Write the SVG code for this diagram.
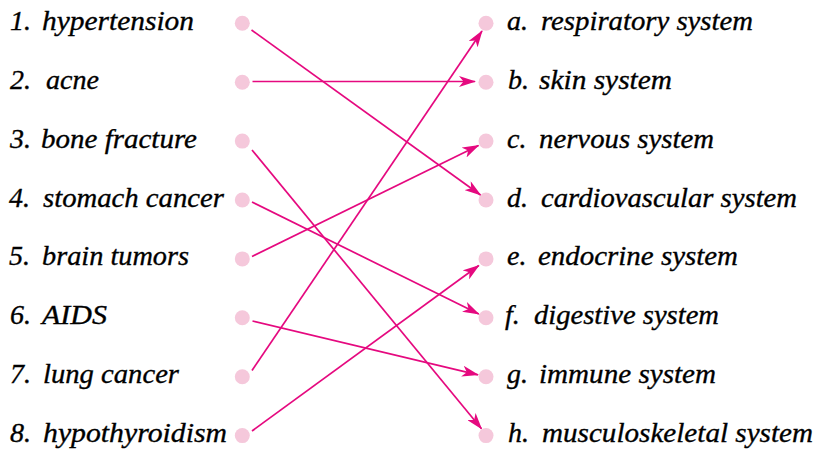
<svg xmlns="http://www.w3.org/2000/svg" width="817" height="452" viewBox="0 0 817 452">
<style>
text{font-family:"Liberation Serif","Times New Roman",serif;font-style:italic;font-size:28px;fill:#000;stroke:#000;stroke-width:0.35}
.dot{fill:#F5C8DB}
.con line{stroke:#E5097F;stroke-width:1.7;fill:none}
</style>
<defs>
<marker id="ah" markerUnits="userSpaceOnUse" viewBox="0 0 17 11" markerWidth="17" markerHeight="11" refX="16" refY="5.5" orient="auto">
<path d="M0,0 L17,5.5 L0,11 L4.5,5.5 Z" fill="#E5097F"/>
</marker>
</defs>
<rect width="817" height="452" fill="#fff"/>
<g id="l1"><text x="10" y="29.8">1.</text><text x="42" y="29.8" textLength="152" lengthAdjust="spacingAndGlyphs">hypertension</text><circle class="dot" cx="242.3" cy="23.3" r="7.5"/></g>
<g id="l2"><text x="10" y="88.7">2.</text><text x="46" y="88.7" textLength="53" lengthAdjust="spacingAndGlyphs">acne</text><circle class="dot" cx="242.3" cy="82.2" r="7.5"/></g>
<g id="l3"><text x="10" y="147.6">3.</text><text x="41" y="147.6" textLength="156" lengthAdjust="spacingAndGlyphs">bone fracture</text><circle class="dot" cx="242.3" cy="141.1" r="7.5"/></g>
<g id="l4"><text x="9" y="206.5">4.</text><text x="43" y="206.5" textLength="181" lengthAdjust="spacingAndGlyphs">stomach cancer</text><circle class="dot" cx="242.3" cy="200" r="7.5"/></g>
<g id="l5"><text x="9" y="265.4">5.</text><text x="42" y="265.4" textLength="147" lengthAdjust="spacingAndGlyphs">brain tumors</text><circle class="dot" cx="242.3" cy="258.9" r="7.5"/></g>
<g id="l6"><text x="10" y="324.3">6.</text><text x="42" y="324.3" textLength="65" lengthAdjust="spacingAndGlyphs">AIDS</text><circle class="dot" cx="242.3" cy="317.8" r="7.5"/></g>
<g id="l7"><text x="10" y="383.2">7.</text><text x="43" y="383.2" textLength="136" lengthAdjust="spacingAndGlyphs">lung cancer</text><circle class="dot" cx="242.3" cy="376.7" r="7.5"/></g>
<g id="l8"><text x="10" y="442.1">8.</text><text x="43" y="442.1" textLength="184" lengthAdjust="spacingAndGlyphs">hypothyroidism</text><circle class="dot" cx="242.3" cy="435.6" r="7.5"/></g>
<g id="ra"><circle class="dot" cx="486" cy="23.3" r="7.5"/><text x="507" y="29.8">a.</text><text x="541" y="29.8" textLength="212" lengthAdjust="spacingAndGlyphs">respiratory system</text></g>
<g id="rb"><circle class="dot" cx="486" cy="82.2" r="7.5"/><text x="508" y="88.7">b.</text><text x="539" y="88.7" textLength="133" lengthAdjust="spacingAndGlyphs">skin system</text></g>
<g id="rc"><circle class="dot" cx="486" cy="141.1" r="7.5"/><text x="507" y="147.6">c.</text><text x="539" y="147.6" textLength="175" lengthAdjust="spacingAndGlyphs">nervous system</text></g>
<g id="rd"><circle class="dot" cx="486" cy="200" r="7.5"/><text x="507" y="206.5">d.</text><text x="541" y="206.5" textLength="256" lengthAdjust="spacingAndGlyphs">cardiovascular system</text></g>
<g id="re"><circle class="dot" cx="486" cy="258.9" r="7.5"/><text x="507" y="265.4">e.</text><text x="538" y="265.4" textLength="200" lengthAdjust="spacingAndGlyphs">endocrine system</text></g>
<g id="rf"><circle class="dot" cx="486" cy="317.8" r="7.5"/><text x="505" y="324.3">f.</text><text x="534" y="324.3" textLength="185" lengthAdjust="spacingAndGlyphs">digestive system</text></g>
<g id="rg"><circle class="dot" cx="486" cy="376.7" r="7.5"/><text x="507" y="383.2">g.</text><text x="539" y="383.2" textLength="177" lengthAdjust="spacingAndGlyphs">immune system</text></g>
<g id="rh"><circle class="dot" cx="486" cy="435.6" r="7.5"/><text x="508" y="442.1">h.</text><text x="542" y="442.1" textLength="271" lengthAdjust="spacingAndGlyphs">musculoskeletal system</text></g>
<g id="connectors" class="con">
<line x1="251.5" y1="30" x2="480.5" y2="195" marker-end="url(#ah)"/>
<line x1="252.5" y1="81.5" x2="475" y2="81.5" marker-end="url(#ah)"/>
<line x1="252" y1="150" x2="481.5" y2="428.8" marker-end="url(#ah)"/>
<line x1="252" y1="202" x2="478.8" y2="314" marker-end="url(#ah)"/>
<line x1="252" y1="256.5" x2="478.5" y2="145.5" marker-end="url(#ah)"/>
<line x1="252.5" y1="321" x2="478" y2="374.8" marker-end="url(#ah)"/>
<line x1="252" y1="370.5" x2="482" y2="31" marker-end="url(#ah)"/>
<line x1="252" y1="431" x2="478.8" y2="265.5" marker-end="url(#ah)"/>
</g>
</svg>
